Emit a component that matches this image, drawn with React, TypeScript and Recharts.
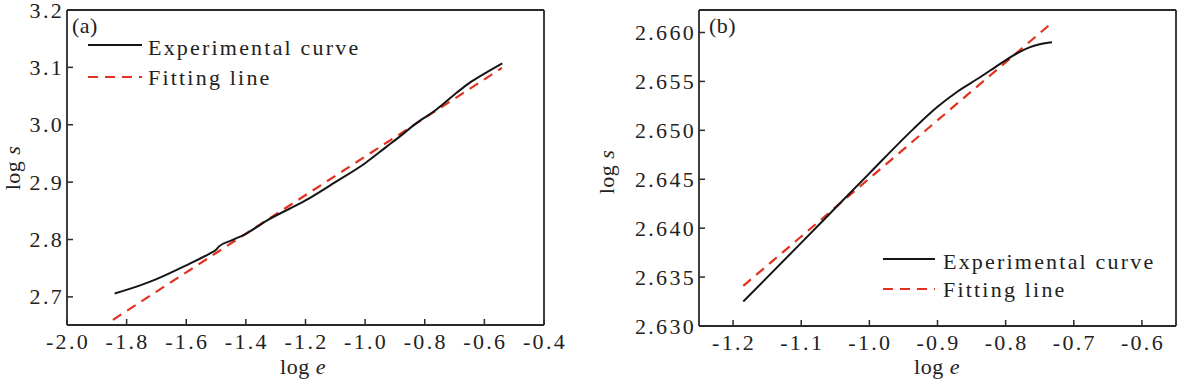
import React from 'react';
import { LineChart, Line, XAxis, YAxis, ReferenceLine } from 'recharts';

// Panel (a)
const aExpX = [-1.84, -1.75, -1.7, -1.6, -1.52, -1.5, -1.49, -1.45, -1.4, -1.33, -1.2, -1.1, -1.0, -0.93, -0.88, -0.83, -0.77, -0.69, -0.65, -0.6, -0.54];
const aExpY = [2.706, 2.721, 2.731, 2.755, 2.776, 2.782, 2.788, 2.798, 2.81, 2.833, 2.868, 2.9, 2.933, 2.961, 2.981, 3.002, 3.023, 3.057, 3.073, 3.089, 3.107];
const aFitX = [-1.846, -0.541];
const aFitY = [2.66, 3.099];
const aXTicks = [-2.0, -1.8, -1.6, -1.4, -1.2, -1.0, -0.8, -0.6, -0.4];
const aYTicks = [2.7, 2.8, 2.9, 3.0, 3.1, 3.2];

// Panel (b)
const bExpX = [-1.185, -1.1, -1.062, -1.0, -0.936, -0.9, -0.87, -0.838, -0.808, -0.78, -0.764, -0.75, -0.732];
const bExpY = [2.6325, 2.6385, 2.6412, 2.6456, 2.6501, 2.6524, 2.654, 2.6554, 2.6568, 2.658, 2.6585, 2.6588, 2.659];
const bFitX = [-1.185, -0.732];
const bFitY = [2.6341, 2.661];
const bXTicks = [-1.2, -1.1, -1.0, -0.9, -0.8, -0.7, -0.6];
const bYTicks = [2.63, 2.635, 2.64, 2.645, 2.65, 2.655, 2.66];

const FONT = '"Liberation Serif", "Times New Roman", serif';
const AXIS = '#2a2a2a';
const TEXT = '#222';
const RED = '#e2321f';
const BLACK = '#151515';

const zip = (xs: number[], ys: number[]) => xs.map((x, i) => ({ x, y: ys[i] }));

const makeYTick = (digits: number) => (props: any) => {
  const { x, y, payload } = props;
  return (
    <g>
      <line x1={x} x2={x + 6} y1={y} y2={y} stroke={AXIS} strokeWidth={1.5} />
      <text x={x - 3} y={y + 7.5} textAnchor="end" fontFamily={FONT} fontSize={22} letterSpacing={2.3} fill={TEXT}>
        {Number(payload.value).toFixed(digits)}
      </text>
    </g>
  );
};

const makeXTick = (digits: number) => (props: any) => {
  const { x, y, payload } = props;
  return (
    <g>
      <line x1={x} x2={x} y1={y} y2={y - 6} stroke={AXIS} strokeWidth={1.5} />
      <text x={x + 1} y={y + 24} textAnchor="middle" fontFamily={FONT} fontSize={22} letterSpacing={2.3} fill={TEXT}>
        {Number(payload.value).toFixed(digits)}
      </text>
    </g>
  );
};

const Panel = (p: {
  left: number; width: number; margin: any; xDomain: number[]; yDomain: number[];
  xTicks: number[]; yTicks: number[]; xd: number; yd: number;
  exp: { x: number; y: number }[]; fit: { x: number; y: number }[];
}) => (
  <div style={{ position: 'absolute', left: p.left, top: 0 }}>
    <LineChart width={p.width} height={381} margin={p.margin} style={{ overflow: 'visible' }}>
      <XAxis type="number" dataKey="x" domain={p.xDomain} ticks={p.xTicks} allowDataOverflow
        height={1} tickSize={0} tickMargin={0} interval={0}
        axisLine={{ stroke: AXIS, strokeWidth: 1.8 }} tickLine={false} tick={makeXTick(p.xd)} />
      <YAxis type="number" dataKey="y" domain={p.yDomain} ticks={p.yTicks} allowDataOverflow
        width={1} tickSize={0} tickMargin={0} interval={0}
        axisLine={{ stroke: AXIS, strokeWidth: 1.8 }} tickLine={false} tick={makeYTick(p.yd)} />
      <ReferenceLine y={p.yDomain[1]} stroke={AXIS} strokeWidth={1.8} />
      <ReferenceLine x={p.xDomain[1]} stroke={AXIS} strokeWidth={1.8} />
      <Line data={p.fit} dataKey="y" type="linear" stroke={RED} strokeWidth={2.2} strokeDasharray="10 7" dot={false} isAnimationActive={false} />
      <Line data={p.exp} dataKey="y" type="monotone" stroke={BLACK} strokeWidth={2} dot={false} isAnimationActive={false} />
    </LineChart>
  </div>
);

export default function App() {
  const t = { fontFamily: FONT, fontSize: 22, fill: TEXT, letterSpacing: 2.2 } as const;
  return (
    <div style={{ position: 'fixed', left: 0, top: 0, width: 1177, height: 381, background: '#fff', overflow: 'hidden' }}>
      <Panel left={0} width={580} margin={{ top: 10, right: 36, bottom: 55, left: 66 }}
        xDomain={[-2.0, -0.4]} yDomain={[2.651, 3.2]} xTicks={aXTicks} yTicks={aYTicks} xd={1} yd={1}
        exp={zip(aExpX, aExpY)} fit={zip(aFitX, aFitY)} />
      <Panel left={600} width={577} margin={{ top: 10, right: 1, bottom: 54, left: 98 }}
        xDomain={[-1.25, -0.55]} yDomain={[2.63, 2.6623]} xTicks={bXTicks} yTicks={bYTicks} xd={1} yd={3}
        exp={zip(bExpX, bExpY)} fit={zip(bFitX, bFitY)} />
      <svg width={1177} height={381} style={{ position: 'absolute', left: 0, top: 0, pointerEvents: 'none' }}>
        <text x={72} y={33} {...t} letterSpacing={0.5}>(a)</text>
        <line x1={88} x2={142} y1={45} y2={45} stroke={BLACK} strokeWidth={2} />
        <text x={148} y={55} {...t}>Experimental curve</text>
        <line x1={88} x2={142} y1={77} y2={77} stroke={RED} strokeWidth={2.2} strokeDasharray="10 7" />
        <text x={148} y={85} {...t}>Fitting line</text>
        <text x={303} y={374} textAnchor="middle" {...t} letterSpacing={0.5}>log <tspan fontStyle="italic">e</tspan></text>
        <text transform="translate(20,168) rotate(-90)" textAnchor="middle" {...t} letterSpacing={0.5}>log <tspan fontStyle="italic">s</tspan></text>
        <text x={709} y={33} {...t} letterSpacing={0.5}>(b)</text>
        <line x1={883} x2={935} y1={259} y2={259} stroke={BLACK} strokeWidth={2} />
        <text x={943} y={269} {...t}>Experimental curve</text>
        <line x1={883} x2={935} y1={289} y2={289} stroke={RED} strokeWidth={2.2} strokeDasharray="10 7" />
        <text x={943} y={297} {...t}>Fitting line</text>
        <text x={937} y={374} textAnchor="middle" {...t} letterSpacing={0.5}>log <tspan fontStyle="italic">e</tspan></text>
        <text transform="translate(614,172) rotate(-90)" textAnchor="middle" {...t} letterSpacing={0.5}>log <tspan fontStyle="italic">s</tspan></text>
      </svg>
    </div>
  );
}
